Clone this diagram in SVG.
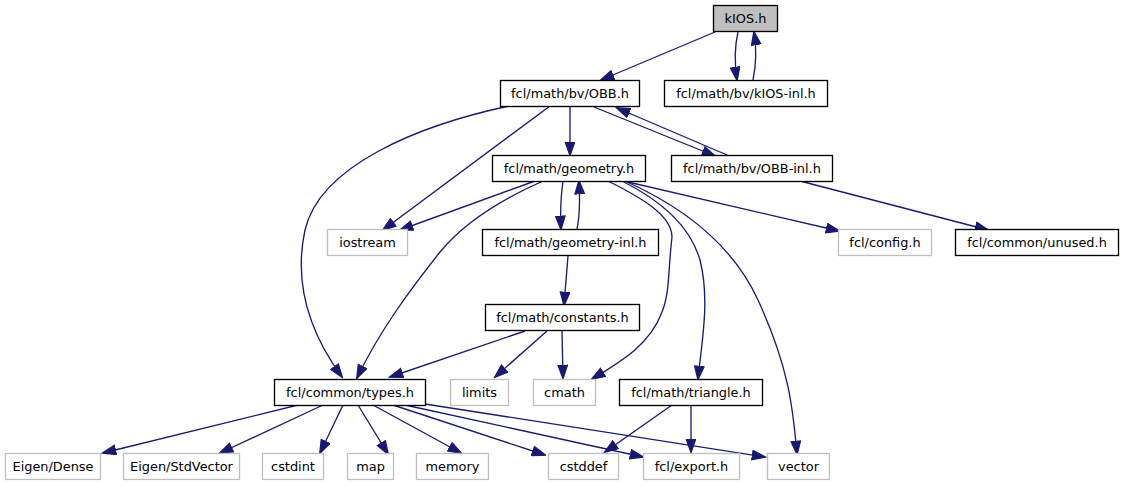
<svg xmlns="http://www.w3.org/2000/svg" width="1123" height="485" viewBox="0 0 1123 485">
<style>
.n rect{fill:#fff;stroke:#000;stroke-width:1.33}
.n.ext rect{stroke:#bfbfbf}
.n.root rect{fill:#bfbfbf}
.n text{font-family:"DejaVu Sans",sans-serif;font-size:12.9px;text-anchor:middle;fill:#000}
.e path{fill:none;stroke:#191970;stroke-width:1.33;marker-end:url(#ah)}
</style>
<defs>
<marker id="ah" markerUnits="userSpaceOnUse" markerWidth="15" markerHeight="11" refX="12.7" refY="4.67" orient="auto" viewBox="-0.7 -0.7 15 11">
<path d="M0,0 L13.3,4.67 L0,9.33 z" fill="#191970" stroke="#191970" stroke-width="1.33" stroke-linejoin="miter"/>
</marker>
</defs>
<rect width="1123" height="485" fill="#fff"/>
<g id="edges" class="e">
<path d="M715,32 L601,80"/>
<path d="M738,32 C735,45 734,60 737,80"/>
<path d="M753,80 C756,65 757,50 754,32"/>
<path d="M570,106 L570,155"/>
<path d="M594,107 L715,156"/>
<path d="M727,155 L617,108"/>
<path d="M550,106 L383,230"/>
<path d="M509,106 C420,125 320,165 305,230 C292,290 315,340 342,377"/>
<path d="M800,181 L988,230"/>
<path d="M535,181 L400,230"/>
<path d="M543,181 C500,200 462,225 440,252 C410,290 380,330 357,378"/>
<path d="M563,181 C561,195 560,210 561,229"/>
<path d="M577,229 C580,215 580,200 579,181"/>
<path d="M608,181 C640,197 672,215 672,237 C668,270 670,292 662,312 C650,345 620,362 592,379"/>
<path d="M622,181 C660,200 690,225 700,260 C710,300 702,340 698,379"/>
<path d="M625,181 C690,210 735,250 758,300 C790,370 793,410 797,454"/>
<path d="M628,182 L839,231"/>
<path d="M568,256 L564,305"/>
<path d="M525,331 L390,377"/>
<path d="M547,331 L495,377"/>
<path d="M562,331 L563,378"/>
<path d="M298,405 L103,453"/>
<path d="M323,405 L220,453"/>
<path d="M343,405 L320,453"/>
<path d="M358,405 L388,454"/>
<path d="M373,405 L461,453"/>
<path d="M393,405 L545,455"/>
<path d="M405,405 L643,457"/>
<path d="M425,404 L765,457"/>
<path d="M672,405 L605,452"/>
<path d="M691,405 L691,452"/>
</g>
<g id="kios_h" class="n root"><rect x="713.5" y="5.5" width="64" height="26"/><text x="745.5" y="23">kIOS.h</text></g>
<g id="obb_h" class="n"><rect x="500.5" y="80.5" width="139" height="26"/><text x="570" y="97.5">fcl/math/bv/OBB.h</text></g>
<g id="kios_inl_h" class="n"><rect x="664.5" y="80.5" width="163" height="26"/><text x="746" y="97.5">fcl/math/bv/kIOS-inl.h</text></g>
<g id="geometry_h" class="n"><rect x="492.5" y="155.5" width="153" height="26"/><text x="569" y="172.5">fcl/math/geometry.h</text></g>
<g id="obb_inl_h" class="n"><rect x="671.5" y="155.5" width="161" height="26"/><text x="752" y="172.5">fcl/math/bv/OBB-inl.h</text></g>
<g id="iostream" class="n ext"><rect x="327.5" y="229.5" width="80" height="26"/><text x="367.5" y="246.5">iostream</text></g>
<g id="geometry_inl_h" class="n"><rect x="482.5" y="229.5" width="176" height="26"/><text x="570.5" y="246.5">fcl/math/geometry-inl.h</text></g>
<g id="config_h" class="n ext"><rect x="838.5" y="229.5" width="93" height="26"/><text x="885" y="246.5">fcl/config.h</text></g>
<g id="unused_h" class="n"><rect x="955.5" y="229.5" width="163" height="26"/><text x="1037" y="246.5">fcl/common/unused.h</text></g>
<g id="constants_h" class="n"><rect x="485.5" y="304.5" width="154" height="26"/><text x="562.5" y="321.5">fcl/math/constants.h</text></g>
<g id="types_h" class="n"><rect x="274.5" y="379.5" width="151" height="26"/><text x="350" y="396.5">fcl/common/types.h</text></g>
<g id="limits" class="n ext"><rect x="450.5" y="379.5" width="58" height="26"/><text x="479.5" y="396.5">limits</text></g>
<g id="cmath" class="n ext"><rect x="533.5" y="379.5" width="62" height="26"/><text x="564.5" y="396.5">cmath</text></g>
<g id="triangle_h" class="n"><rect x="619.5" y="379.5" width="143" height="26"/><text x="691" y="396.5">fcl/math/triangle.h</text></g>
<g id="eigen_dense" class="n ext"><rect x="5.5" y="453.5" width="95" height="26"/><text x="53" y="470.5">Eigen/Dense</text></g>
<g id="eigen_stdvector" class="n ext"><rect x="123.5" y="453.5" width="116" height="26"/><text x="181.5" y="470.5">Eigen/StdVector</text></g>
<g id="cstdint" class="n ext"><rect x="262.5" y="453.5" width="61" height="26"/><text x="293" y="470.5">cstdint</text></g>
<g id="map" class="n ext"><rect x="347.5" y="453.5" width="46" height="26"/><text x="370.5" y="470.5">map</text></g>
<g id="memory" class="n ext"><rect x="416.5" y="453.5" width="72" height="26"/><text x="452.5" y="470.5">memory</text></g>
<g id="cstddef" class="n ext"><rect x="548.5" y="453.5" width="70" height="26"/><text x="583.5" y="470.5">cstddef</text></g>
<g id="export_h" class="n ext"><rect x="643.5" y="453.5" width="96" height="26"/><text x="691.5" y="470.5">fcl/export.h</text></g>
<g id="vector" class="n ext"><rect x="767.5" y="453.5" width="62" height="26"/><text x="798.5" y="470.5">vector</text></g>
</svg>
